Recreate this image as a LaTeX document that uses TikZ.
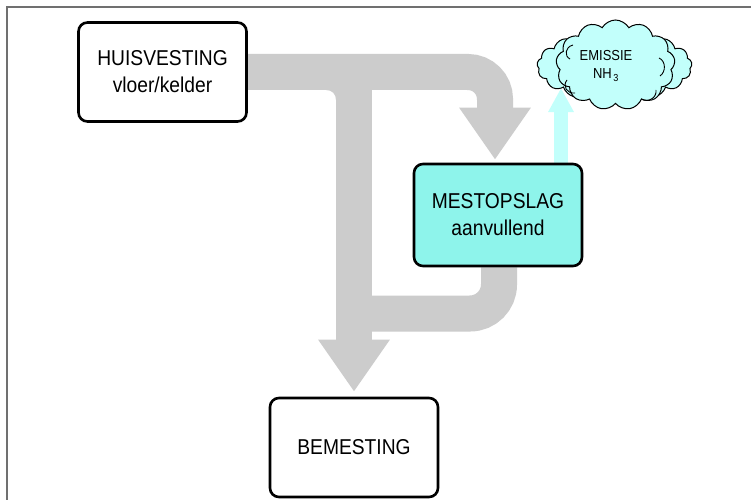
\documentclass[tikz,border=0pt]{standalone}
\usepackage{fontspec}
\setmainfont{Liberation Sans}[FakeStretch=0.895]
\usetikzlibrary{shapes.symbols,arrows.meta}

\definecolor{flowgray}{HTML}{CCCCCC}
\definecolor{storefill}{HTML}{8EF4EB}
\definecolor{gasfill}{HTML}{C2FFFB}
\definecolor{framegray}{HTML}{707070}

\pgfdeclarelayer{background}
\pgfdeclarelayer{canvas}
\pgfsetlayers{canvas,background,main}

\tikzset{
  stage/.style={draw=black, line width=2.6pt, rounded corners=9pt,
    minimum width=168pt, minimum height=99pt, align=center, inner sep=0pt,
    font=\fontsize{21.5}{27}\selectfont},
  flow/.style={draw=flowgray, line width=36pt,
    -{Triangle[width=68pt,length=52pt]}},
  band/.style={draw=flowgray, line width=36pt},
  gasflow/.style={draw=gasfill, line width=14pt,
    -{Triangle[width=24pt,length=24pt]}},
  puffs/.style={cloud, draw=black, line width=1pt, fill=gasfill,
    cloud ignores aspect, cloud puff arc=120},
  curl/.style={draw=black, line width=0.9pt},
  gastext/.style={font=\fontsize{14.5}{18}\selectfont, align=center, inner sep=0pt}
}

\begin{document}
\begin{tikzpicture}[x=1pt, y=-1pt]
  \useasboundingbox (0,0) rectangle (751,500);
  \begin{pgfonlayer}{canvas}
    \fill[white] (0,0) rectangle (751,500);
  \end{pgfonlayer}

  % outer frame (top and left edge only)
  \draw[framegray, line width=1.5pt] (751,7) -- (7,7) -- (7,500);

  % process stages
  \node[stage] (hv) at (162.5,72) {HUISVESTING\\vloer/kelder};
  \node[stage, fill=storefill, minimum height=102pt] (ms) at (498,215) {MESTOPSLAG\\aanvullend};
  \node[stage] (bm) at (354,447.5) {BEMESTING};

  % ammonia emission cloud
  \node[puffs, cloud puffs=17, minimum width=155pt, minimum height=72pt] (cloudback) at (614.5,66) {};
  \node[puffs, cloud puffs=13, minimum width=119pt, minimum height=90pt] (cloudfront) at (615.5,65) {};
  % fold lines inside the cloud
  \path[curl] (573,45) .. controls (565,47) and (564,56) .. (570,59);
  \path[curl] (567,80) .. controls (562,86) and (567,94) .. (575,93);
  \path[curl] (641,99) .. controls (648,103) and (657,98) .. (656,90);
  \path[curl] (659,58) .. controls (666,61) and (666,72) .. (660,76);
  \node[gastext] (gas) at (606,66) {EMISSIE\\NH\kern1.5pt\textsubscript{3}};

  \coordinate (gastip) at (561,88);
  \coordinate (rejoin) at (354,313.5);

  \begin{pgfonlayer}{background}
    % housing -> storage
    \draw[flow, rounded corners=27pt] (hv.east)
      -- ([xshift=-3pt]ms.north |- hv.east) -- ([xshift=-3pt,yshift=3pt]ms.north);
    % housing -> fertilising
    \draw[flow] (hv.east -| bm.north) -- ([yshift=5pt]bm.north);
    \fill[flowgray] (326,90) .. controls (332,90) and (336,94) .. (336,100) -- (336,90) -- cycle;
    % storage -> fertilising
    \draw[band, rounded corners=29pt] ([xshift=1pt]ms.south)
      -- ([xshift=1pt]ms.south |- rejoin) -- (rejoin);
    % storage -> emission
    \draw[gasflow] (ms.north -| gastip) -- (gastip);
  \end{pgfonlayer}
\end{tikzpicture}
\end{document}
